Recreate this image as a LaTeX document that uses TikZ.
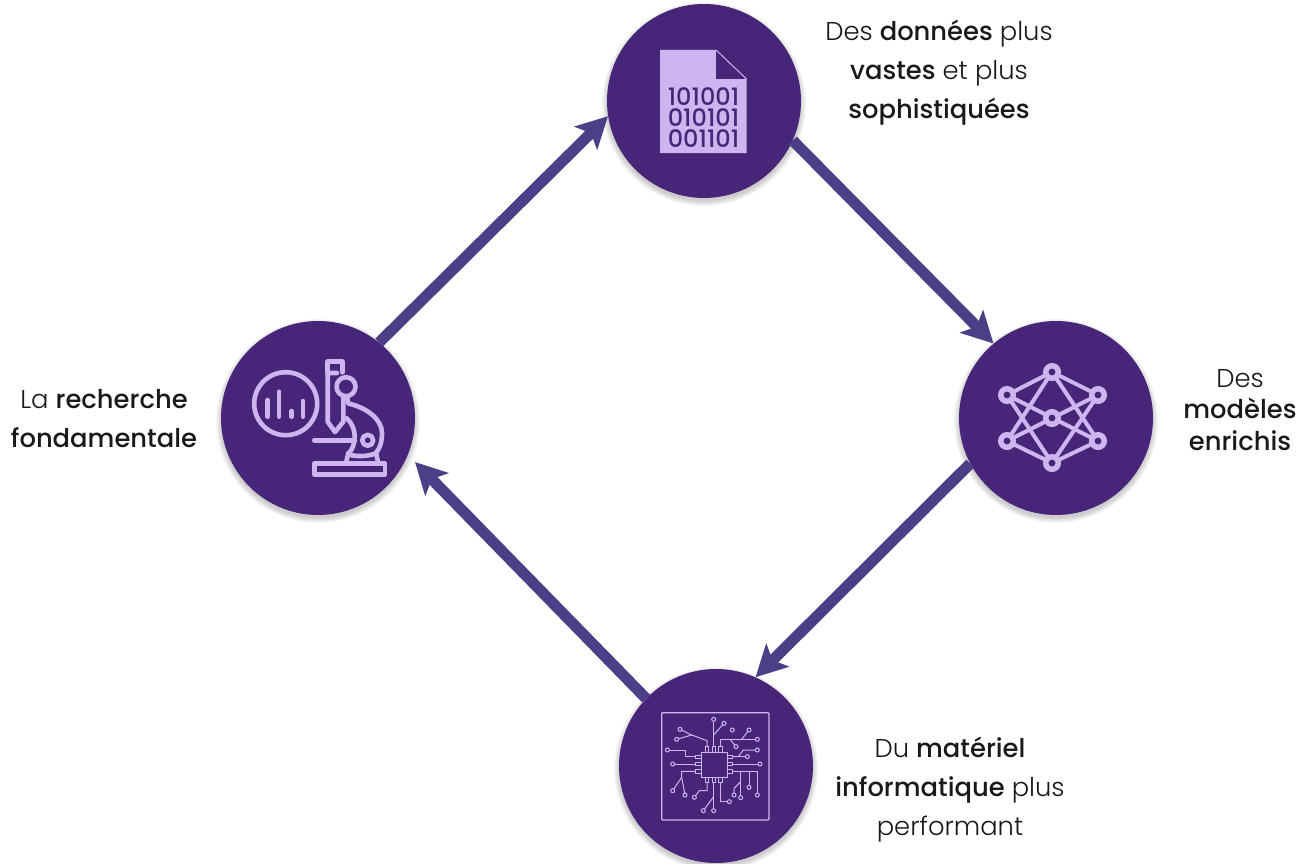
\documentclass[tikz,border=0pt]{standalone}
\usepackage{xcolor}
\usepackage{fontspec}
\setmainfont{Poppins}[UprightFont=* Light,BoldFont=* Medium]
\usepackage{tikz}
\usetikzlibrary{arrows.meta}
\definecolor{disc}{HTML}{47267A}
\definecolor{lilac}{HTML}{CFB5F0}
\definecolor{flow}{HTML}{4D3F87}
\begin{document}
\begin{tikzpicture}[x=1pt,y=-1pt]
	\tikzstyle{stage}=[circle, fill=disc, minimum size=194pt, inner sep=0pt]
	\tikzstyle{caption}=[align=center, font=\fontsize{25.8}{39}\selectfont, text=black!90]
	\tikzstyle{icon}=[draw=lilac, line width=4.6pt, line cap=round, line join=round]
	\tikzstyle{joint}=[circle, draw=lilac, fill=disc, line width=5.5pt, minimum size=12.5pt, inner sep=0pt]
	\tikzstyle{trace}=[draw=lilac, line width=1pt]
	\tikzset{edge/.style = {draw=flow, line width=11pt, -{Stealth[length=31pt,width=32pt,inset=7pt]}}}
	\useasboundingbox (0,0) rectangle (1303,864);

	% soft shadows
	\foreach \cx/\cy in {704/101,318/418,1056/418,716/766}
		\foreach \extra in {1,2,...,6}
			\fill[black, opacity=.035] (\cx,\cy+3) circle ({96+\extra});

	% stages
	\node[stage](data)    at (704,101) {};
	\node[stage](science) at (318,418) {};
	\node[stage](models)  at (1056,418) {};
	\node[stage](chips)   at (716,766) {};
	\coordinate (sciencein) at (415,462);

	% flow
	\draw[edge](science.51) to (data.189);
	\draw[edge](data.-24)   to (models.130);
	\draw[edge](models.208) to (chips.66);
	\draw[edge](chips.136)  to (sciencein);

	% captions
	\node[caption](datatext)    at (939,73)  {Des \textbf{données} plus\\\textbf{vastes} et plus\\\textbf{sophistiquées}};
	\node[caption, font=\fontsize{25.8}{31.5}\selectfont](modelstext)  at (1240,410) {Des\\\textbf{modèles}\\\textbf{enrichis}};
	\node[caption](chipstext)   at (950,790) {Du \textbf{matériel}\\\textbf{informatique} plus\\performant};
	\node[caption](sciencetext) at (104,419) {La \textbf{recherche}\\\textbf{fondamentale}};

	% file icon
	\fill[lilac] (660,50) -- (716,50) -- (746.5,79) -- (746.5,153) -- (660,153) -- cycle;
	\fill[disc] (716,50) -- (746,79) -- (716,79) -- cycle;
	\draw[lilac, line width=1pt] (716,50) -- (746.5,79);
	\node[text=disc, font=\fontsize{24}{21}\selectfont\bfseries, align=center, inner sep=0pt](bits) at (703.5,118) {101001\\010101\\001101};

	% microscope icon
	\draw[icon] (285.7,403.7) circle (31.5);
	\draw[icon] (267.7,400) -- (267.7,416.7);
	\draw[icon] (279,391.7) -- (279,416.7);
	\draw[icon] (291.7,411) -- (291.7,416.7);
	\draw[icon] (303,401) -- (303,416.7);
	\draw[icon] (343.3,397) -- (343.3,421.7) -- (335,432) -- (327.7,421.7) -- (327.7,373) -- (337,373);
	\draw[icon] (327.7,372.3) -- (327.7,361.7) -- (342.3,361.7) -- (342.3,372.3);
	\draw[icon] (346,386.7) circle (9.5);
	\draw[icon] (347,396.7) -- (348.3,403.5) .. controls (368,408) and (382,420) .. (382,433) .. controls (382,442) and (380,448) .. (376,453);
	\draw[icon] (346.7,418.3) .. controls (358,428) and (356,446) .. (349,453);
	\draw[icon] (314.3,440.3) -- (355,440.3);
	\draw[icon] (367.7,440.3) circle (5.5);
	\draw[icon] (350,455) .. controls (360,457) and (370,456) .. (376,453);
	\draw[icon] (348.3,453) -- (346,463.3);
	\draw[icon] (376,453) -- (378.3,463.3);
	\draw[icon] (314.3,463.3) rectangle (385,474.3);

	% network icon
	\coordinate (pt) at (1052,372);
	\coordinate (pa) at (1007,395);
	\coordinate (pd) at (1098,395);
	\coordinate (pc) at (1052,418);
	\coordinate (pb) at (1007,441);
	\coordinate (pe) at (1098,441);
	\coordinate (pf) at (1052,463);
	\foreach \na/\nb in {pt/pa,pt/pd,pt/pb,pt/pe,pf/pa,pf/pd,pf/pb,pf/pe,pa/pe,pb/pd}
		\draw[lilac, line width=4pt] (\na) -- (\nb);
	\foreach \na in {pt,pa,pd,pc,pb,pe,pf}
		\node[joint](j\na) at (\na) {};

	% chip icon
	\begin{scope}[shift={(650,700)}, x=.3333pt, y=-.3333pt]
		\draw[lilac, line width=1.3pt, rounded corners=1pt] (35,38) rectangle (357,360);
		\draw[lilac, line width=1.2pt] (155,157) rectangle (232,232);
		\foreach \py in {170,192,214} {
			\draw[trace] (137,\py-5) rectangle (155,\py+5);
			\draw[trace] (232,\py-5) rectangle (246,\py+5);
		}
		\foreach \px in {171,191,211} {
			\draw[trace] (\px-5,138) rectangle (\px+5,157);
			\draw[trace] (\px-5,232) rectangle (\px+5,248);
		}
		% traces
		\draw[trace] (171,138) -- (171,122) -- (125,105) -- (90,88);
		\draw[trace] (125,105) -- (80,118);
		\draw[trace] (191,138) -- (191,58);
		\draw[trace] (191,105) -- (222,70);
		\draw[trace] (211,138) -- (211,118) -- (322,118);
		\draw[trace] (240,118) -- (258,140);
		\draw[trace] (275,118) -- (297,90);
		\draw[trace] (137,170) -- (105,170) -- (105,150) -- (52,150);
		\draw[trace] (137,192) -- (68,192);
		\draw[trace] (137,214) -- (95,214) -- (95,232) -- (68,272);
		\draw[trace] (95,232) -- (105,285);
		\draw[trace] (246,170) -- (265,170) -- (280,150) -- (322,150);
		\draw[trace] (265,170) -- (292,170);
		\draw[trace] (246,192) -- (330,192);
		\draw[trace] (246,214) -- (322,214) -- (322,285);
		\draw[trace] (272,214) -- (272,293);
		\draw[trace] (297,214) -- (297,262);
		\draw[trace] (272,245) -- (252,265) -- (252,285);
		\draw[trace] (171,248) -- (171,272) -- (148,272) -- (133,292);
		\draw[trace] (191,248) -- (191,332);
		\draw[trace] (191,290) -- (160,332);
		\draw[trace] (211,248) -- (211,305) -- (238,305);
		% terminals
		\foreach \tx/\ty in {90/88,80/118,191/58,222/70,247/90,258/140,297/90,322/118,52/150,68/192,68/272,105/285,322/150,292/170,330/192,322/285,272/293,297/262,252/285,133/292,191/332,160/332,238/305}
			\draw[trace, fill=disc] (\tx,\ty) circle (2pt);
	\end{scope}
\end{tikzpicture}
\end{document}
